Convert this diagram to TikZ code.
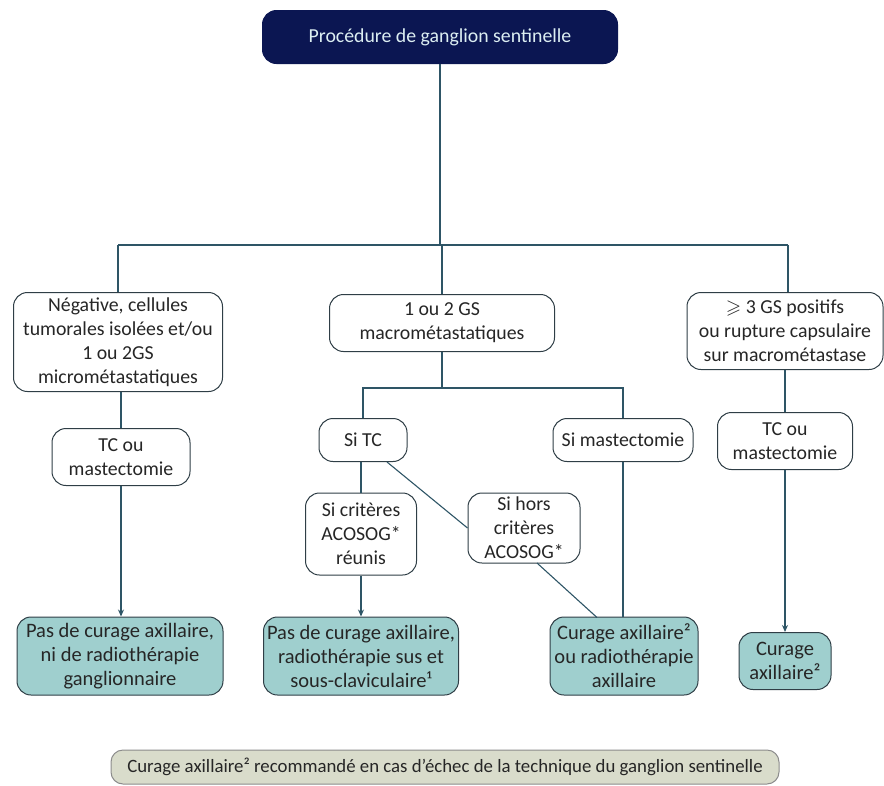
\documentclass[tikz,border=0pt]{standalone}
\usepackage{fontspec}
\usepackage{amssymb}
\setmainfont{Carlito}
\usetikzlibrary{arrows.meta}
\definecolor{lnc}{HTML}{2E5566}
\definecolor{navy}{HTML}{0B1652}
\definecolor{toptext}{HTML}{DCEEF2}
\definecolor{tealf}{HTML}{9FCFCE}
\definecolor{notef}{HTML}{D9DCCB}
\definecolor{bord}{HTML}{2F3E46}
\begin{document}
\begin{tikzpicture}[x=1pt,y=-1pt,
  font=\fontsize{19.8}{24}\selectfont,
  box/.style={draw=bord, line width=1pt, rounded corners=14pt, fill=white, align=center, inner sep=0pt, text=black!85},
  res/.style={box, fill=tealf, font=\fontsize{20.5}{24}\selectfont},
  conn/.style={draw=lnc, line width=1.1pt},
  arr/.style={conn, -{Stealth[length=7pt,width=6pt]}}]
\useasboundingbox (0,0) rectangle (884,785);

\node[box, fill=navy, draw=navy, text=toptext, minimum width=355, minimum height=53] (top) at (440,37) {Procédure de ganglion sentinelle};

\node[box, minimum width=209, minimum height=99] (neg) at (118,342) {Négative, cellules\\tumorales isolées et/ou\\1 ou 2GS\\micrométastatiques};
\node[box, minimum width=225, minimum height=57] (macro) at (442,323) {1 ou 2 GS\\macrométastatiques};
\node[box, minimum width=196, minimum height=77] (three) at (785,331) {$\geqslant$ 3 GS positifs\\ou rupture capsulaire\\sur macrométastase};

\node[box, minimum width=138, minimum height=57] (tc1) at (121,457) {TC ou\\mastectomie};
\node[box, minimum width=88, minimum height=43] (sitc) at (363,440) {Si TC};
\node[box, minimum width=140, minimum height=43] (simast) at (623,440) {Si mastectomie};
\node[box, minimum width=135, minimum height=57] (tc3) at (785,441) {TC ou\\mastectomie};

\node[box, minimum width=111, minimum height=82] (crit) at (361,534) {Si critères\\ACOSOG*\\réunis};
\node[box, minimum width=112, minimum height=70] (hors) at (524,528) {Si hors\\critères\\ACOSOG*};

\node[res, minimum width=206, minimum height=78] (b1) at (120,656) {Pas de curage axillaire,\\ni de radiothérapie\\ganglionnaire};
\node[res, minimum width=195, minimum height=78] (b2) at (361,656) {Pas de curage axillaire,\\radiothérapie sus et\\sous-claviculaire¹};
\node[res, minimum width=148, minimum height=78] (b3) at (624,656) {Curage axillaire²\\ou radiothérapie\\axillaire};
\node[res, minimum width=92, minimum height=57] (b4) at (785,661) {Curage\\axillaire²};

\node[box, fill=notef, draw=black!45, rounded corners=12pt, minimum width=668, minimum height=34, font=\fontsize{18.8}{22}\selectfont] (note) at (445,767) {Curage axillaire² recommandé en cas d’échec de la technique du ganglion sentinelle};

% connectors
\coordinate (j1) at (440,245);
\coordinate (jl) at (118,245);
\coordinate (jr) at (788,245);
\draw[conn] (top.south) -- (j1);
\draw[conn] (jl) -- (jr);
\draw[conn] (jl) -- (neg.north);
\draw[conn] (j1 -| macro.north) -- (macro.north);
\draw[conn] (jr) -- (jr |- three.north);

\draw[conn] (neg.south -| tc1.north) -- (tc1.north);
\draw[arr] (tc1.south) -- (tc1.south |- b1.north);

\coordinate (j2) at (442,388);
\draw[conn] (macro.south) -- (j2);
\draw[conn] (sitc.north) |- (j2) -| (simast.north);

\draw[conn] (sitc.south -| crit.north) -- (crit.north);
\draw[arr] (crit.south) -- (crit.south |- b2.north);
\coordinate (tcse) at (387,462);
\coordinate (hse) at (537,563);
\coordinate (b3in) at (597,617.5);
\draw[conn] (tcse) -- (hors.west);
\draw[conn] (hse) -- (b3in);
\draw[conn] (simast.south) -- (simast.south |- b3.north);

\draw[conn] (three.south) -- (tc3.north);
\draw[arr] (tc3.south) -- (b4.north);
\end{tikzpicture}
\end{document}
